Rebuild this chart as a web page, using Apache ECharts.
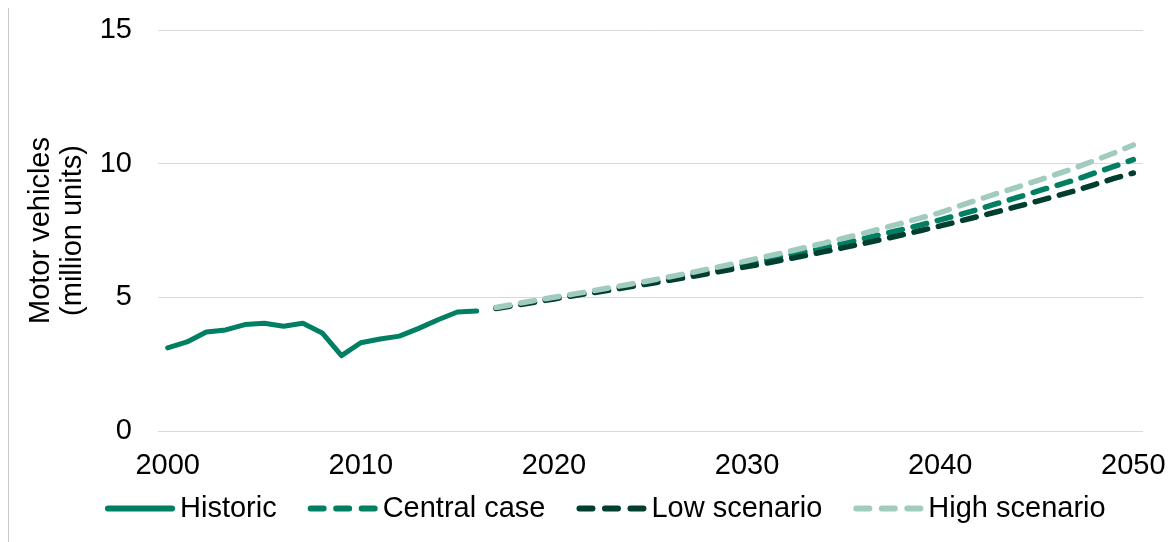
<!DOCTYPE html>
<html>
<head>
<meta charset="utf-8">
<script src="https://cdn.jsdelivr.net/npm/echarts@6/dist/echarts.min.js"></script>
<style>
html,body{margin:0;padding:0;background:#fff;}
#chart{width:1175px;height:542px;}
</style>
</head>
<body>
<div id="chart"></div>
<script>
const years = ['2000','2001','2002','2003','2004','2005','2006','2007','2008','2009',
  '2010','2011','2012','2013','2014','2015','2016','2017','2018','2019',
  '2020','2021','2022','2023','2024','2025','2026','2027','2028','2029',
  '2030','2031','2032','2033','2034','2035','2036','2037','2038','2039',
  '2040','2041','2042','2043','2044','2045','2046','2047','2048','2049','2050'];

// 2000-2016
const historic = [3.11,3.33,3.70,3.78,3.98,4.03,3.92,4.03,3.67,2.82,3.30,3.44,3.55,3.84,4.16,4.45,4.49];

// 2017-2050
const centralCase = [4.60,4.72,4.85,4.97,5.09,5.20,5.32,5.45,5.57,5.70,5.83,5.97,6.11,6.25,6.40,6.55,6.70,6.86,7.02,7.19,7.36,7.53,7.71,7.90,8.09,8.30,8.52,8.74,8.96,9.18,9.40,9.65,9.90,10.15];
const lowScenario = [4.58,4.70,4.82,4.94,5.06,5.17,5.28,5.40,5.52,5.64,5.76,5.89,6.02,6.15,6.28,6.42,6.56,6.71,6.86,7.01,7.17,7.33,7.50,7.67,7.85,8.03,8.21,8.40,8.59,8.79,8.99,9.22,9.45,9.65];
const highScenario = [4.62,4.75,4.88,5.00,5.12,5.24,5.37,5.50,5.63,5.77,5.91,6.06,6.21,6.37,6.53,6.69,6.86,7.03,7.21,7.39,7.58,7.77,7.97,8.17,8.42,8.66,8.90,9.12,9.36,9.60,9.85,10.12,10.40,10.70];

const yTicks = {min: 0, max: 15, interval: 5};

const padFront = (arr) => Array(years.length - arr.length).fill(null).concat(arr);
const padBack = (arr) => arr.concat(Array(years.length - arr.length).fill(null));

const FONT = '"Liberation Sans", Arial, sans-serif';
const FS = 29;
const chart = echarts.init(document.getElementById('chart'), null, {renderer: 'canvas'});

const SOLID_ICON = 'path://M3,0H67A3,3 0 0 1 67,6H3A3,3 0 0 1 3,0Z';
const DASH_ICON = 'path://M3,0H16A3,3 0 0 1 16,6H3A3,3 0 0 1 3,0Z' +
  'M28.5,0H41.5A3,3 0 0 1 41.5,6H28.5A3,3 0 0 1 28.5,0Z' +
  'M54,0H67A3,3 0 0 1 67,6H54A3,3 0 0 1 54,0Z';

function dashed(name, color, data) {
  return {
    name: name, type: 'line', data: padFront(data), symbol: 'none', showSymbol: false,
    connectNulls: false,
    lineStyle: {color: color, width: 5.5, type: [14, 11], cap: 'round'},
    itemStyle: {color: color}
  };
}

chart.setOption({
  animation: false,
  backgroundColor: '#fff',
  textStyle: {fontFamily: FONT},
  graphic: [{
    type: 'line', shape: {x1: 8.5, y1: 8, x2: 8.5, y2: 542},
    style: {stroke: '#c8c8c8', lineWidth: 1}, silent: true
  }],
  grid: {left: 158, right: 32, top: 30, bottom: 111, containLabel: false},
  legend: {
    left: 100, top: 489,
    itemWidth: 70, itemHeight: 6, itemGap: 31,
    textStyle: {fontSize: FS, color: '#000', fontFamily: FONT},
    data: [
      {name: 'Historic', icon: SOLID_ICON},
      {name: 'Central case', icon: DASH_ICON},
      {name: 'Low scenario', icon: DASH_ICON},
      {name: 'High scenario', icon: DASH_ICON}
    ]
  },
  xAxis: {
    type: 'category', data: years, boundaryGap: true,
    axisLine: {show: false}, axisTick: {show: false},
    axisLabel: {interval: 9, fontSize: FS, color: '#000', margin: 20, fontFamily: FONT},
    splitLine: {show: false}
  },
  yAxis: {
    type: 'value', min: yTicks.min, max: yTicks.max, interval: yTicks.interval,
    name: 'Motor vehicles\n(million units)', nameLocation: 'middle', nameGap: 62,
    nameTextStyle: {fontSize: FS, color: '#000', lineHeight: 32, fontFamily: FONT},
    axisLine: {show: false}, axisTick: {show: false},
    axisLabel: {fontSize: FS, color: '#000', margin: 26, fontFamily: FONT},
    splitLine: {lineStyle: {color: '#d9d9d9', width: 1}}
  },
  series: [
    {
      name: 'Historic', type: 'line', data: padBack(historic), symbol: 'none', showSymbol: false,
      lineStyle: {color: '#007f63', width: 5, cap: 'round', join: 'round'},
      itemStyle: {color: '#007f63'}
    },
    dashed('Central case', '#007f63', centralCase),
    dashed('Low scenario', '#003f2f', lowScenario),
    dashed('High scenario', '#a2cbbf', highScenario)
  ]
});
</script>
</body>
</html>
